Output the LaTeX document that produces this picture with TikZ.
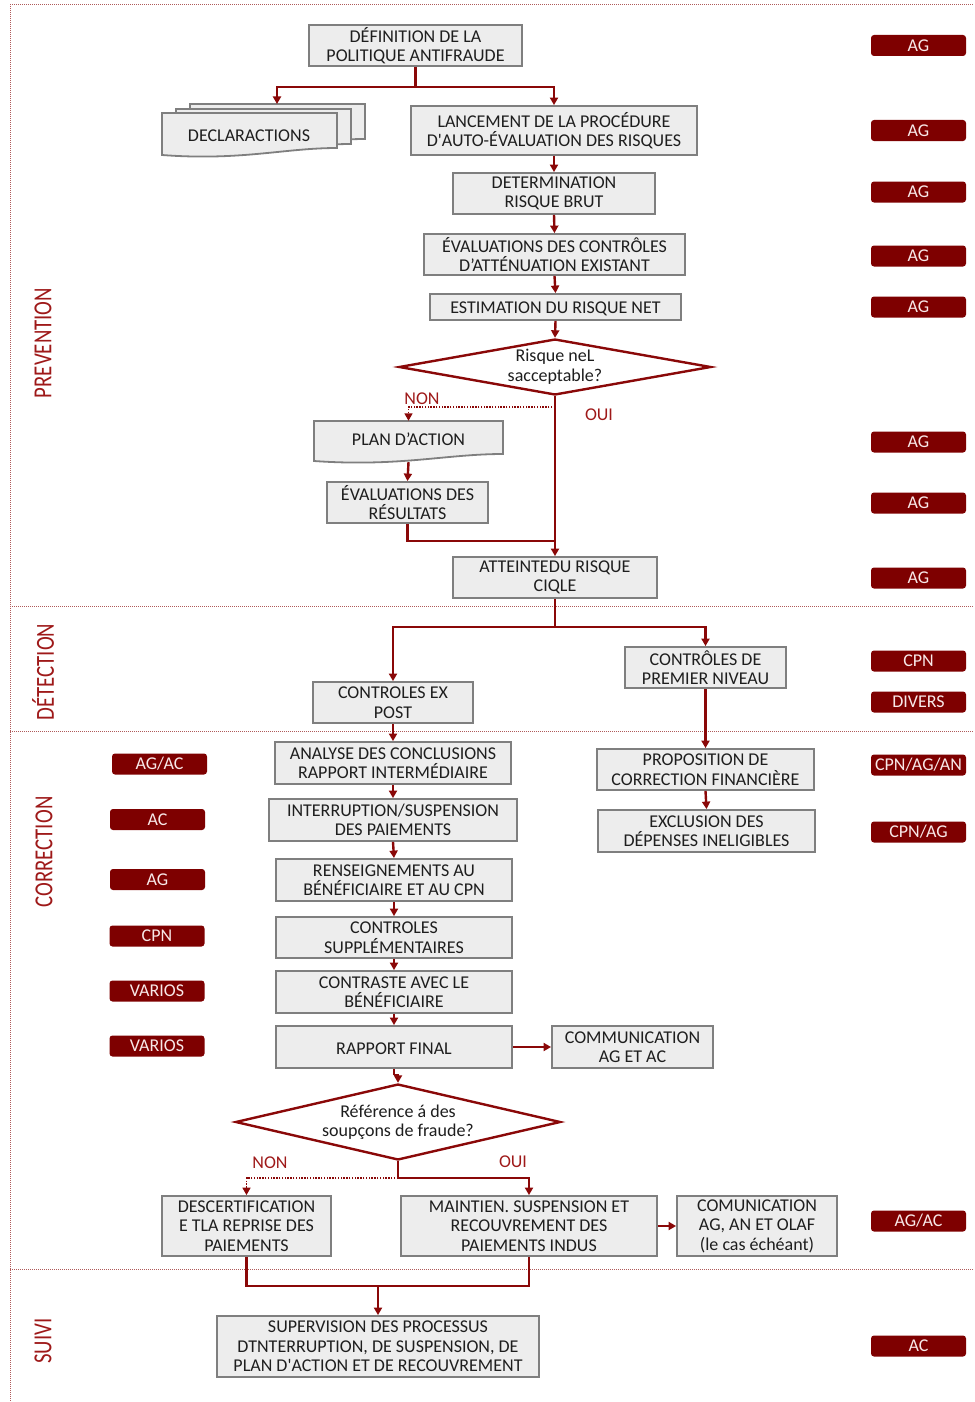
\documentclass[tikz,border=0pt]{standalone}
\usepackage{fontspec}
\setmainfont{Carlito}[Ligatures=TeXOff]
\usetikzlibrary{arrows.meta,shapes.geometric}

\definecolor{boxfill}{RGB}{237,237,237}
\definecolor{boxline}{RGB}{127,127,127}
\definecolor{boxtext}{RGB}{30,30,30}
\definecolor{linered}{RGB}{138,8,8}
\definecolor{tagred}{RGB}{126,0,0}
\definecolor{tagtext}{RGB}{248,232,232}
\definecolor{labred}{RGB}{158,25,25}
\definecolor{seprose}{RGB}{175,90,90}

\newcommand{\boxfont}{\fontsize{18}{19.5}\selectfont}
\newcommand{\sectfont}{\fontsize{26}{28}\selectfont}
\newcommand{\capstrut}{\rule{0pt}{15pt}}

% document symbol with a wavy bottom edge: x-left, y-top, x-right, y-bottom-left
\newcommand{\waveddoc}[4]{%
  \filldraw[docstyle] (#1,#2) -- (#3,#2) -- (#3,{#4-7})
    .. controls ({#3-0.3*(#3-#1)},{#4-7}) and ({#1+0.45*(#3-#1)},{#4+6}) .. (#1,#4) -- cycle;}

\tikzset{
  box/.style={draw=boxline, fill=boxfill, line width=1.8pt, inner sep=0pt,
    align=center, font=\boxfont, text=boxtext, execute at begin node=\capstrut},
  docstyle/.style={draw=boxline, fill=boxfill, line width=1.8pt},
  plain/.style={inner sep=0pt, align=center, font=\boxfont, text=boxtext,
    execute at begin node=\capstrut},
  tag/.style={fill=tagred, rounded corners=3pt, minimum width=95pt,
    minimum height=21pt, inner sep=0pt, text=tagtext, font=\boxfont},
  conn/.style={draw=linered, line width=2.4pt},
  arr/.style={conn, -{Triangle[length=7.5pt,width=8pt]}},
  dotarr/.style={draw=linered, line width=1.6pt, dash pattern=on 1.4pt off 1.4pt,
    -{Triangle[length=7.5pt,width=8pt]}},
  decision/.style={diamond, draw=linered, line width=2.4pt, fill=white, inner sep=0pt},
  yn/.style={text=labred, font=\boxfont, inner sep=0pt},
  sect/.style={rotate=90, text=labred, font=\sectfont, inner sep=0pt},
  sepline/.style={draw=seprose, line width=0.8pt, dash pattern=on 1pt off 1pt},
}

\begin{document}
\begin{tikzpicture}[x=1pt,y=-1pt]
\useasboundingbox (0,0) rectangle (974,1402);

% phase frame
\draw[sepline] (10,4) -- (974,4);
\draw[sepline] (10,606) -- (974,606);
\draw[sepline] (10,731) -- (974,731);
\draw[sepline] (10,1269) -- (974,1269);
\draw[sepline] (10,4) -- (10,1402);

% phase titles
\node[sect] (tprev) at (43,343) {\scalebox{0.8}[1]{PREVENTION}};
\node[sect] (tdet) at (43,672) {\scalebox{0.8}[1]{DÉTECTION}};
\node[sect] (tcor) at (44,852) {\scalebox{0.8}[1]{CORRECTION}};
\node[sect] (tsui) at (43,1341) {\scalebox{0.8}[1]{SUIVI}};

% ---------- prevention ----------
\node[box, minimum width=213pt, minimum height=41pt] (def) at (415.5,45.5)
  {DÉFINITION DE LA\\POLITIQUE ANTIFRAUDE};

\waveddoc{190}{104}{365}{146}
\waveddoc{176}{109}{351}{151}
\waveddoc{162}{113}{337}{155}
\node[plain] (decl) at (249,134) {DECLARACTIONS};
\coordinate (declTop) at (277,104);

\node[box, minimum width=286pt, minimum height=49pt] (lanc) at (554,130.5)
  {LANCEMENT DE LA PROCÉDURE\\D'AUTO-ÉVALUATION DES RISQUES};
\node[box, minimum width=202pt, minimum height=41pt] (det) at (554,193.5)
  {DETERMINATION\\RISQUE BRUT};
\node[box, minimum width=261pt, minimum height=41pt] (evc) at (554.5,254.5)
  {ÉVALUATIONS DES CONTRÔLES\\D’ATTÉNUATION EXISTANT};
\node[box, minimum width=251pt, minimum height=26pt] (est) at (555.5,307)
  {ESTIMATION DU RISQUE NET};
\node[decision, minimum width=312pt, minimum height=56pt] (d1) at (555,367) {};
\node[plain] (d1t) at (555,367) {Risque neL\\sacceptable?};

\node[inner sep=0pt, minimum width=189pt, minimum height=41pt] (plan) at (408.5,441.5) {};
\waveddoc{314}{421}{503}{461}
\node[plain] (plant) at (408.5,438) {PLAN D’ACTION};
\node[box, minimum width=161pt, minimum height=41pt] (evr) at (407.5,502.5)
  {ÉVALUATIONS DES\\RÉSULTATS};
\node[box, minimum width=204pt, minimum height=41pt] (att) at (555,577.5)
  {ATTEINTEDU RISQUE\\CIQLE};

\node[yn] (non1) at (422,399) {NON};
\node[yn] (oui1) at (599,415) {OUI};

% ---------- detection ----------
\node[box, minimum width=160pt, minimum height=41pt] (exp) at (393,702.5)
  {CONTROLES EX\\POST};
\node[box, minimum width=161pt, minimum height=41pt] (cpn) at (705.5,667.5)
  {CONTRÔLES DE\\PREMIER NIVEAU};

% ---------- correction ----------
\node[box, minimum width=236pt, minimum height=42pt] (ana) at (393,763)
  {ANALYSE DES CONCLUSIONS\\RAPPORT INTERMÉDIAIRE};
\node[box, minimum width=248pt, minimum height=42pt] (int) at (393,820)
  {INTERRUPTION/SUSPENSION\\DES PAIEMENTS};
\node[box, minimum width=236pt, minimum height=42pt] (ren) at (394,880)
  {RENSEIGNEMENTS AU\\BÉNÉFICIAIRE ET AU CPN};
\node[box, minimum width=236pt, minimum height=41pt] (sup) at (394,937.5)
  {CONTROLES\\SUPPLÉMENTAIRES};
\node[box, minimum width=236pt, minimum height=42pt] (con) at (394,992)
  {CONTRASTE AVEC LE\\BÉNÉFICIAIRE};
\node[box, minimum width=236pt, minimum height=42pt] (rf) at (394,1047)
  {RAPPORT FINAL};
\node[box, minimum width=161pt, minimum height=42pt] (com) at (632.5,1047)
  {COMMUNICATION\\AG ET AC};
\node[box, minimum width=217pt, minimum height=41pt] (pro) at (705.5,769.5)
  {PROPOSITION DE\\CORRECTION FINANCIÈRE};
\node[box, minimum width=217pt, minimum height=42pt] (exc) at (706.5,831)
  {EXCLUSION DES\\DÉPENSES INELIGIBLES};

\node[decision, minimum width=325pt, minimum height=76pt] (d2) at (398,1122) {};
\node[plain] (d2t) at (398,1122) {Référence á des\\soupçons de fraude?};
\node[yn] (non2) at (270,1163) {NON};
\node[yn] (oui2) at (513,1162) {OUI};

\node[box, minimum width=169pt, minimum height=60pt] (des) at (246.5,1226)
  {DESCERTIFICATION\\E TLA REPRISE DES\\PAIEMENTS};
\node[box, minimum width=256pt, minimum height=60pt] (mai) at (529,1226)
  {MAINTIEN. SUSPENSION ET\\RECOUVREMENT DES\\PAIEMENTS INDUS};
\node[box, minimum width=160pt, minimum height=60pt] (olaf) at (757,1226)
  {COMUNICATION\\AG, AN ET OLAF\\(le cas échéant)};

% ---------- follow-up ----------
\node[box, minimum width=322pt, minimum height=61pt] (sv) at (378,1346.5)
  {SUPERVISION DES PROCESSUS\\DTNTERRUPTION, DE SUSPENSION, DE\\PLAN D'ACTION ET DE RECOUVREMENT};

% ---------- responsibility tags ----------
\node[tag] (r1) at (918.5,45.5) {AG};
\node[tag] (r2) at (918.5,130.5) {AG};
\node[tag] (r3) at (918.5,192) {AG};
\node[tag] (r4) at (918.5,256) {AG};
\node[tag] (r5) at (918.5,307) {AG};
\node[tag] (r6) at (918.5,442) {AG};
\node[tag] (r7) at (918.5,503) {AG};
\node[tag] (r8) at (918.5,578) {AG};
\node[tag] (r9) at (918.5,661) {CPN};
\node[tag] (r10) at (918.5,702) {DIVERS};
\node[tag] (r11) at (918.5,765) {CPN/AG/AN};
\node[tag] (r12) at (918.5,832) {CPN/AG};
\node[tag] (r13) at (918.5,1221) {AG/AC};
\node[tag] (r14) at (918.5,1346) {AC};

\node[tag] (l1) at (159.5,764) {AG/AC};
\node[tag] (l2) at (157.5,819.5) {AC};
\node[tag] (l3) at (157.5,879.5) {AG};
\node[tag] (l4) at (157,936) {CPN};
\node[tag] (l5) at (157,991) {VARIOS};
\node[tag] (l6) at (157,1046) {VARIOS};

% ---------- connectors ----------
\coordinate (j1) at (415.5,87);
\draw[conn] (def.south) -- (j1);
\draw[arr] (j1) -| (declTop);
\draw[arr] (j1) -| (lanc.north);
\draw[arr] (lanc.south) -- (det.north);
\draw[arr] (det.south) -- (evc.north);
\draw[arr] (evc.south) -- (est.north);
\draw[arr] (est.south) -- (d1.north);
\draw[arr] (d1.south) -- (att.north);
\coordinate (jn) at (555,407);
\draw[dotarr] (jn) -| (plan.north);
\draw[arr] (plan.south) -- (evr.north);
\coordinate (jm) at (555,541);
\draw[conn] (evr.south) |- (jm);

\coordinate (j2) at (555,627);
\draw[conn] (att.south) -- (j2);
\draw[arr] (j2) -| (exp.north);
\draw[arr] (j2) -| (cpn.north);
\draw[arr] (exp.south) -- (ana.north);
\draw[arr] (cpn.south) -- (pro.north);
\draw[arr] (pro.south) -- (exc.north);

\draw[arr] (ana.south) -- (int.north);
\draw[arr] (int.south) -- (ren.north);
\draw[arr] (ren.south) -- (sup.north);
\draw[arr] (sup.south) -- (con.north);
\draw[arr] (con.south) -- (rf.north);
\draw[arr] (rf.east) -- (com.west);
\coordinate (jr) at (394,1075);
\draw[conn] (rf.south) -- (jr);
\draw[arr] (jr) -| (d2.north);

\coordinate (j3) at (398,1178);
\draw[conn] (d2.south) -- (j3);
\draw[arr] (j3) -| (mai.north);
\draw[dotarr] (j3) -| (des.north);
\draw[arr] (mai.east) -- (olaf.west);

\coordinate (j4) at (378,1286);
\draw[conn] (des.south) |- (j4) -| (mai.south);
\draw[arr] (j4) -- (sv.north);
\end{tikzpicture}
\end{document}
